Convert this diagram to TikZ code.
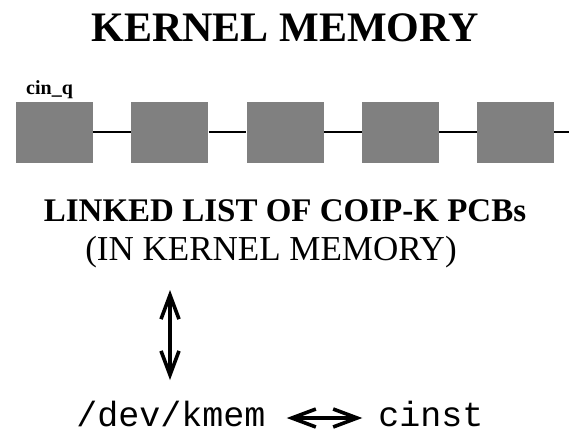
\documentclass[tikz,border=0pt]{standalone}
\usepackage{fontspec}
\setmainfont{Liberation Serif}
\setmonofont{Liberation Mono}
\usetikzlibrary{arrows.meta,positioning}

\begin{document}
\begin{tikzpicture}[
    x=1pt, y=-1pt,
    pcb/.style={rectangle, fill=black!50, minimum width=77pt, minimum height=61pt, inner sep=0pt},
    link/.style={line width=1.6pt},
    twoway/.style={{Straight Barb[length=24pt,width=18pt]}-{Straight Barb[length=24pt,width=18pt]}, line width=3.6pt},
    title/.style={font=\fontsize{42}{44}\selectfont\bfseries},
    code/.style={font=\fontsize{35}{37}\selectfont\ttfamily, inner sep=0pt, anchor=base}
]
    \useasboundingbox (0,0) rectangle (569,437);

    % Title
    \node[title] (kmemtitle) at (285,28) {KERNEL MEMORY};

    % Linked list of PCBs
    \foreach \i in {1,...,5} {
        \node[pcb] (box\i) at ({54.5+115.3*(\i-1)},132) {};
    }
    \node[font=\fontsize{20}{22}\selectfont\bfseries, anchor=base west, inner sep=0pt] (head) at (26,94) {cin\_q};
    \foreach \i/\j in {1/2,2/3,3/4,4/5} {
        \draw[link] (box\i) -- (box\j);
    }
    \coordinate (tail) at (569,132);
    \draw[link] (box5) -- (tail);

    % Captions
    \node[font=\fontsize{33}{35}\selectfont\bfseries] (listcap) at (285,211) {LINKED LIST OF COIP-K PCBs};
    \node[font=\fontsize{35}{37}\selectfont] (memcap) at (271,252) {(IN KERNEL MEMORY)};

    % Device and tool
    \node[code] (kmem) at (171,426) {/dev/kmem};
    \node[code] (cinst) at (431,426) {cinst};

    \coordinate (vtop) at (170,290);
    \coordinate (vbot) at (170,380);
    \draw[twoway] (vtop) -- (vbot);
    \draw[twoway, shorten <=21pt, shorten >=16pt] (kmem.east |- 0,418) -- (cinst.west |- 0,418);
\end{tikzpicture}
\end{document}
